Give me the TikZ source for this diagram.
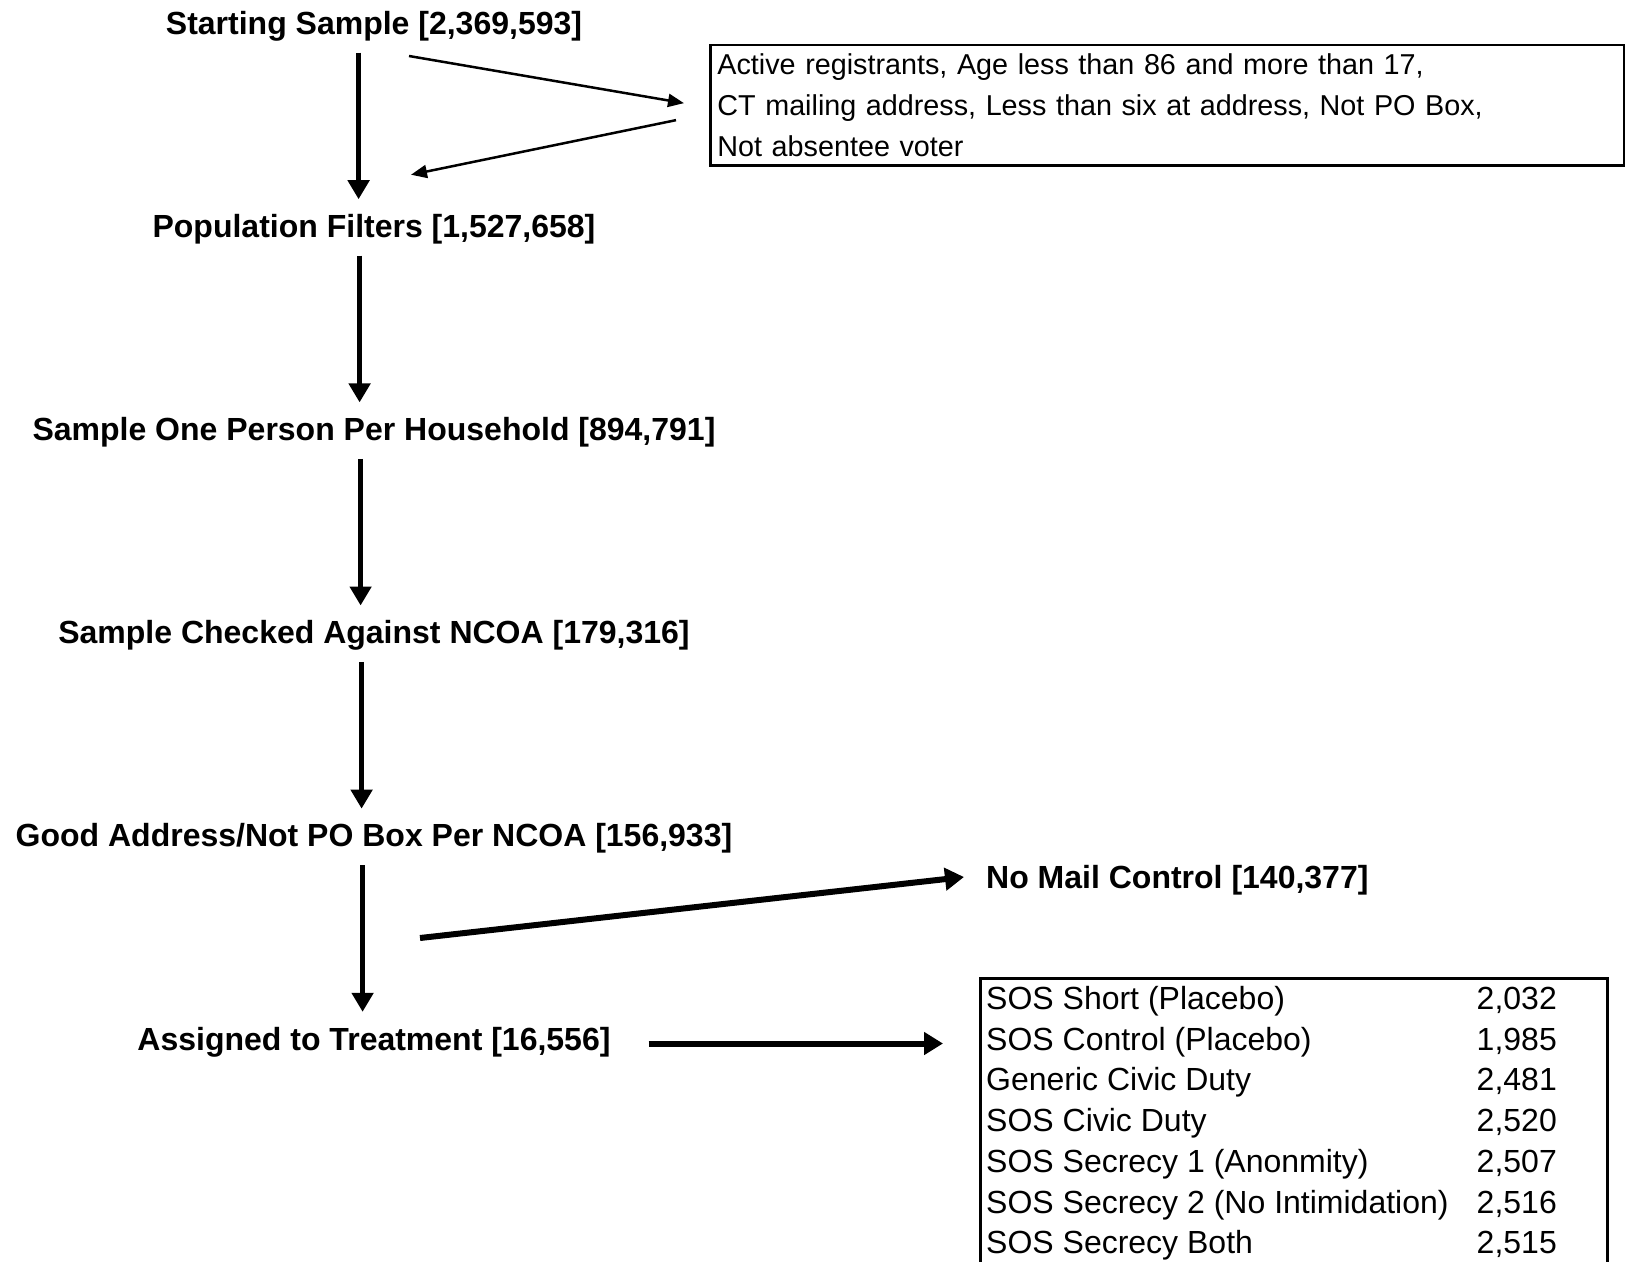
\documentclass[tikz,border=0pt]{standalone}
\usepackage{fontspec}
\setmainfont{Liberation Sans}
\usetikzlibrary{arrows.meta}
\usetikzlibrary{calc}

\begin{document}
\begin{tikzpicture}[x=1pt,y=-1pt,
  lbl/.style={font=\bfseries\fontsize{32}{38}\selectfont, inner sep=0pt, text height=23pt, text depth=0pt},
  txt/.style={font=\fontsize{32}{38}\selectfont, inner sep=0pt, text height=23pt, text depth=0pt},
  box/.style={draw, line width=2.8pt},
  down/.style={line width=5pt, -{Triangle[length=19pt,width=21pt]}, shorten <=18pt, shorten >=15pt},
  thin arr/.style={line width=2.5pt, -{Triangle[length=16pt,width=13pt]}},
  fat arr/.style={line width=6pt, -{Triangle[length=19pt,width=22pt]}}]
\useasboundingbox (0,0) rectangle (1625,1261);
\foreach \t [count=\i from 0] in {{Starting Sample [2,369,593]},{Population Filters [1,527,658]},{Sample One Person Per Household [894,791]},{Sample Checked Against NCOA [179,316]},{Good Address/Not PO Box Per NCOA [156,933]},{Assigned to Treatment [16,556]}}
  \node[lbl] (s\i) at (374,{22.8+203.14*\i}) {\t};
\foreach \a/\b [count=\i] in {s0/s1,s1/s2,s2/s3,s3/s4,s4/s5}
  \draw[down] ([shift={(\i-16.4,0)}]\a.south) -- ([shift={(\i-16.4,0)}]\b.north);

\node[box, anchor=north west, minimum width=914pt, minimum height=120.5pt, text width=900pt, inner xsep=7pt, inner ysep=0pt, align=left, font=\fontsize{28.75}{41}\selectfont] (filt) at (709,43.5) {Active registrants, Age less than 86 and more than 17,\\CT mailing address, Less than six at address, Not PO Box,\\Not absentee voter};
\draw[thin arr] ([shift={(35,21.5)}]s0.south) -- ([shift={(-25,-2)}]filt.west);
\draw[thin arr] ([shift={(-33,15)}]filt.west) -- ([shift={(37,-39.5)}]s1.north);

\coordinate (split) at (420,938);
\node[lbl, anchor=west] (nomail) at (986,877) {No Mail Control [140,377]};
\draw[fat arr] (split) -- ([shift={(-22,0)}]nomail.west);

\node[box, anchor=north west, minimum width=627pt, minimum height=320pt] (tbl) at (979,977) {};
\foreach \n/\v [count=\i] in {SOS Short (Placebo)/2{,}032,SOS Control (Placebo)/1{,}985,Generic Civic Duty/2{,}481,SOS Civic Duty/2{,}520,SOS Secrecy 1 (Anonmity)/2{,}507,SOS Secrecy 2 (No Intimidation)/2{,}516,SOS Secrecy Both/2{,}515}{
  \node[txt, anchor=west] (row\i) at (986,{998+40.7*(\i-1)}) {\n};
  \node[txt, anchor=east] (num\i) at (1557,{998+40.7*(\i-1)}) {\v};
}
\draw[fat arr] ($(s5.east)+(38,5)$) -- ($(s5.east -| tbl.west)+(-36,5)$);
\end{tikzpicture}
\end{document}
